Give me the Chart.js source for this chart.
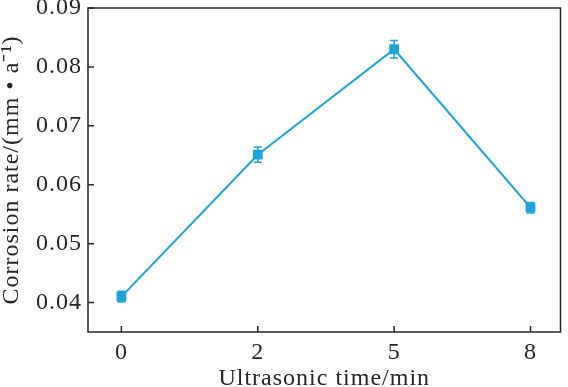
<!DOCTYPE html>
<html>
<head>
<meta charset="utf-8">
<script src="https://cdn.jsdelivr.net/npm/chart.js@4"></script>
<style>
  html, body { margin: 0; padding: 0; background: #fff; }
  #wrap { width: 568px; height: 387px; }
</style>
</head>
<body>
<div id="wrap"><canvas id="lineChart" width="568" height="387"></canvas></div>
<script>
const timeLabels = ['0', '2', '5', '8'];
const rateValues = [0.0410, 0.0651, 0.0830, 0.0561];
const rateErrors = [0.0009, 0.0013, 0.0015, 0.0009];
const yTicks = [0.04, 0.05, 0.06, 0.07, 0.08, 0.09];

const lineColor = '#1aa6dd';
const axisColor = '#262626';
const fontFamily = '"Liberation Serif", "Times New Roman", serif';

// the original lettering is wide, so space it out a bit
const wideText = {
    id: 'wideText',
    beforeLayout(chart) { chart.ctx.letterSpacing = '1px'; },
    beforeDraw(chart) { chart.ctx.letterSpacing = '1px'; }
};

// error bars, drawn via the scales
const errorBars = {
    id: 'errorBars',
    afterDatasetsDraw(chart) {
        const ctx = chart.ctx;
        const x = chart.scales.x, y = chart.scales.y;
        ctx.save();
        ctx.strokeStyle = lineColor;
        ctx.lineWidth = 1.5;
        rateValues.forEach((v, i) => {
            const px = x.getPixelForValue(i);
            const top = y.getPixelForValue(v + rateErrors[i]);
            const bot = y.getPixelForValue(v - rateErrors[i]);
            ctx.beginPath();
            ctx.moveTo(px, top); ctx.lineTo(px, bot);
            ctx.moveTo(px - 4, top); ctx.lineTo(px + 4, top);
            ctx.moveTo(px - 4, bot); ctx.lineTo(px + 4, bot);
            ctx.stroke();
        });
        ctx.restore();
    }
};

// box frame + inward ticks
const frame = {
    id: 'frame',
    afterDraw(chart) {
        const ctx = chart.ctx;
        const a = chart.chartArea;
        const x = chart.scales.x, y = chart.scales.y;
        ctx.save();
        ctx.strokeStyle = axisColor;
        ctx.lineWidth = 1.5;
        ctx.strokeRect(a.left, a.top, a.right - a.left, a.bottom - a.top);
        ctx.beginPath();
        timeLabels.forEach((t, i) => {
            const px = x.getPixelForValue(i);
            ctx.moveTo(px, a.bottom); ctx.lineTo(px, a.bottom - 6);
        });
        yTicks.forEach(v => {
            const py = y.getPixelForValue(v);
            ctx.moveTo(a.left, py); ctx.lineTo(a.left + 6, py);
        });
        ctx.stroke();
        ctx.restore();
    }
};

const ctx = document.getElementById('lineChart').getContext('2d');
const lineChart = new Chart(ctx, {
    type: 'line',
    data: {
        datasets: [{
            label: 'Corrosion rate',
            data: rateValues.map((v, i) => ({ x: i, y: v })),
            borderColor: lineColor,
            backgroundColor: lineColor,
            borderWidth: 2,
            pointStyle: 'rect',
            pointRadius: 5.5,
            pointHoverRadius: 5.5,
            fill: false
        }]
    },
    options: {
        responsive: false,
        animation: false,
        layout: { padding: { left: 0, right: 5, top: 0, bottom: 0 } },
        plugins: { legend: { display: false }, tooltip: { enabled: false } },
        scales: {
            x: {
                type: 'linear',
                min: -0.245,
                max: 3.22,
                afterBuildTicks: (s) => { s.ticks = timeLabels.map((t, i) => ({ value: i })); },
                afterFit: (s) => { s.height = 55; },
                grid: { display: false, drawTicks: false },
                border: { display: false },
                ticks: {
                    padding: 9,
                    color: axisColor,
                    font: { family: fontFamily, size: 24, lineHeight: 1 },
                    callback: (v) => timeLabels[v]
                },
                title: {
                    display: true,
                    text: 'Ultrasonic time/min',
                    color: axisColor,
                    font: { family: fontFamily, size: 24, lineHeight: 1 },
                    padding: { top: 3, bottom: -4 }
                }
            },
            y: {
                min: 0.035,
                max: 0.09,
                afterBuildTicks: (s) => { s.ticks = yTicks.map(v => ({ value: v })); },
                afterFit: (s) => { s.width = 88; s.paddingTop = 8; s.paddingBottom = 0; },
                grid: { display: false, drawTicks: false },
                border: { display: false },
                ticks: {
                    padding: 6,
                    color: axisColor,
                    font: { family: fontFamily, size: 24, lineHeight: 0.75 },
                    callback: (v) => v.toFixed(2)
                },
                title: {
                    display: true,
                    text: 'Corrosion rate/(mm • a⁻¹)',
                    color: axisColor,
                    font: { family: fontFamily, size: 24, lineHeight: 1 },
                    padding: { top: 0, bottom: 0 }
                }
            }
        }
    },
    plugins: [wideText, errorBars, frame]
});
</script>
</body>
</html>
